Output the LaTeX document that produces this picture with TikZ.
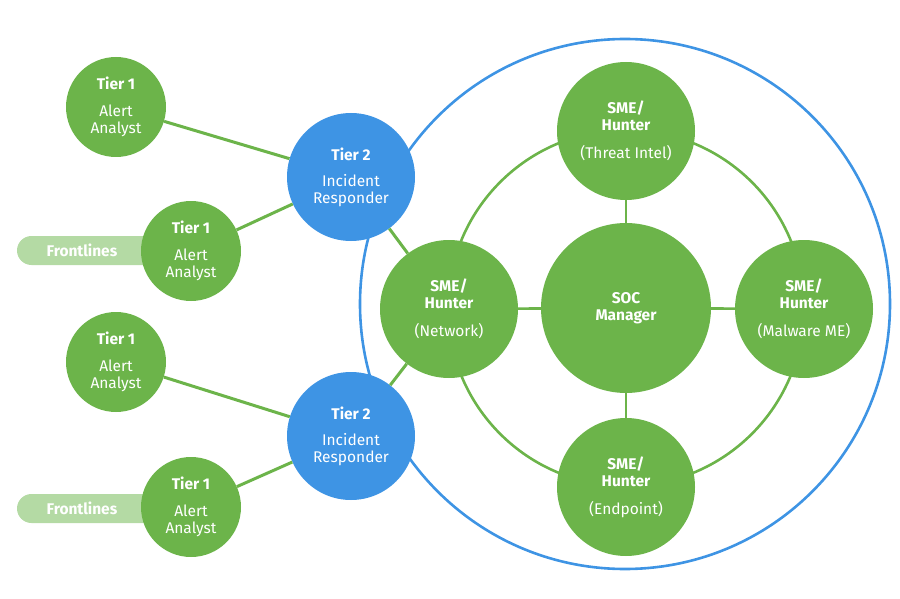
\documentclass[tikz,border=0pt]{standalone}
\usepackage{fontspec}
\setmainfont{Fira Sans}
\definecolor{grn}{RGB}{108,180,74}
\definecolor{blu}{RGB}{62,148,228}
\definecolor{pillc}{RGB}{180,218,164}
\newcommand\nodefont{\fontsize{15.5}{17}\selectfont}
\tikzset{
  base/.style={circle, inner sep=0pt, text=white, align=center, font=\nodefont},
  tierone/.style={base, fill=grn, minimum size=100pt},
  tiertwo/.style={base, fill=blu, minimum size=128pt},
  sme/.style={base, fill=grn, minimum size=138pt},
  soc/.style={base, fill=grn, minimum size=170pt},
  link/.style={draw=grn, line width=3pt},
  ringline/.style={draw=grn, line width=2.6pt},
  bigring/.style={draw=blu, line width=2.6pt},
  pill/.style={fill=pillc, rounded corners=14.5pt},
  pilltext/.style={text=white, font=\nodefont\bfseries, inner sep=0pt}
}
\begin{document}
\begin{tikzpicture}[x=1pt,y=-1pt]
\useasboundingbox (0,0) rectangle (900,599);
% big blue circle and inner ring
\draw[bigring] (625,304) circle[radius=265pt];
\draw[ringline] (626,308) circle[radius=178pt];
% frontline pills
\fill[pill] (17,236) rectangle (190,265);
\fill[pill] (17,494) rectangle (190,523);
\node[pilltext] (fl1) at (82,250.5) {Frontlines};
\node[pilltext] (fl2) at (82,508.5) {Frontlines};
% nodes
\node[tierone] (a1) at (116,107) {\textbf{Tier 1}\\[10pt]Alert\\Analyst};
\node[tierone] (a2) at (191,251) {\textbf{Tier 1}\\[10pt]Alert\\Analyst};
\node[tierone] (a3) at (116,362) {\textbf{Tier 1}\\[10pt]Alert\\Analyst};
\node[tierone] (a4) at (191,507) {\textbf{Tier 1}\\[10pt]Alert\\Analyst};
\node[tiertwo] (t2a) at (351,177) {\textbf{Tier 2}\\[9pt]Incident\\Responder};
\node[tiertwo] (t2b) at (351,436) {\textbf{Tier 2}\\[9pt]Incident\\Responder};
\node[soc] (soc) at (626,308) {\textbf{SOC}\\\textbf{Manager}};
\node[sme] (ti) at (626,131) {\textbf{SME/}\\\textbf{Hunter}\\[11pt](Threat Intel)};
\node[sme] (net) at (449,309) {\textbf{SME/}\\\textbf{Hunter}\\[11pt](Network)};
\node[sme] (mal) at (804,309) {\textbf{SME/}\\\textbf{Hunter}\\[11pt](Malware ME)};
\node[sme] (ep) at (626,487) {\textbf{SME/}\\\textbf{Hunter}\\[11pt](Endpoint)};
% connectors
\draw[link] (a1) -- (t2a);
\draw[link] (a2) -- (t2a);
\draw[link] (a3) -- (t2b);
\draw[link] (a4) -- (t2b);
\draw[link] (t2a) -- (net);
\draw[link] (t2b) -- (net);
\draw[ringline] (soc) -- (ti);
\draw[ringline] (soc) -- (net);
\draw[ringline] (soc) -- (mal);
\draw[ringline] (soc) -- (ep);
\end{tikzpicture}
\end{document}
